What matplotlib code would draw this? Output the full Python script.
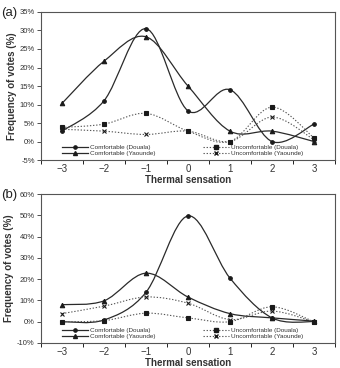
import numpy as np
import matplotlib
matplotlib.use('Agg')
import matplotlib.pyplot as plt
from matplotlib.path import Path
from matplotlib.patches import PathPatch
from matplotlib.lines import Line2D
from matplotlib.ticker import FuncFormatter

# Thermal sensation categories
sensation = [-3, -2, -1, 0, 1, 2, 3]

# Panel (a) values (%)
a_comf_douala = [2.8, 11.0, 30.5, 8.3, 14.0, 0.0, 4.7]
a_comf_yaounde = [10.3, 21.7, 28.3, 15.0, 2.8, 2.8, 0.0]
a_uncomf_douala = [3.8, 4.7, 7.6, 2.8, 0.0, 9.3, 1.0]
a_uncomf_yaounde = [3.3, 2.8, 1.9, 2.8, 0.0, 6.6, 0.5]

# Panel (b) values (%)
b_comf_douala = [0.0, 0.8, 13.8, 49.7, 20.5, 1.8, 0.0]
b_comf_yaounde = [8.0, 9.8, 22.8, 11.6, 3.8, 1.8, 0.3]
b_uncomf_douala = [0.0, 0.5, 4.0, 1.8, 0.0, 7.0, 0.0]
b_uncomf_yaounde = [3.8, 7.3, 11.6, 8.7, 1.0, 5.0, 0.0]

labels = ['Comfortable (Douala)', 'Comfortable (Yaounde)',
          'Uncomfortable (Douala)', 'Uncomfortable (Yaounde)']

plt.rcParams['font.family'] = ['Liberation Sans', 'DejaVu Sans']


def smooth_path(x, y):
    """Excel-like smoothed line as cubic Bezier path through the points."""
    pts = np.column_stack([x, y]).astype(float)
    verts = [pts[0]]
    codes = [Path.MOVETO]
    n = len(pts)
    for i in range(n - 1):
        p0 = pts[i - 1] if i > 0 else pts[i]
        p1 = pts[i]
        p2 = pts[i + 1]
        p3 = pts[i + 2] if i + 2 < n else pts[i + 1]
        c1 = p1 + (p2 - p0) / 6.0
        c2 = p2 - (p3 - p1) / 6.0
        verts += [c1, c2, p2]
        codes += [Path.CURVE4] * 3
    return Path(verts, codes)


styles = [
    dict(marker='o', ls='-', color='#2a2a2a', lw=0.9, ms=2.6),
    dict(marker='^', ls='-', color='#2a2a2a', lw=0.9, ms=3.2),
    dict(marker='s', ls=(0, (1.2, 1.6)), color='#555555', lw=0.8, ms=2.6),
    dict(marker='x', ls=(0, (1.2, 1.6)), color='#555555', lw=0.8, ms=3.0),
]


def draw_panel(fig, ax, series, ylim, ystep, tag):
    for vals, st in zip(series, styles):
        patch = PathPatch(smooth_path(sensation, vals), fill=False,
                          edgecolor=st['color'], lw=st['lw'], linestyle=st['ls'])
        ax.add_patch(patch)
        ax.plot(sensation, vals, linestyle='none', marker=st['marker'],
                color='#1a1a1a', ms=st['ms'], mew=0.8)
    ax.set_xlim(-3.5, 3.5)
    ax.set_ylim(*ylim)
    ax.set_yticks(np.arange(ylim[0], ylim[1] + 0.1, ystep))
    ax.yaxis.set_major_formatter(FuncFormatter(lambda v, p: f'{v:.0f}%'))
    ax.set_xticks(sensation)
    ax.set_xticks(np.arange(-3.5, 3.6, 1), minor=True)
    ax.tick_params(axis='x', which='major', length=0, labelsize=7, pad=3, colors='#333333')
    ax.tick_params(axis='x', which='minor', length=3, width=0.6, direction='out')
    ax.tick_params(axis='y', length=3, width=0.6, labelsize=5.5, pad=1.5, colors='#333333')
    for s in ax.spines.values():
        s.set_linewidth(0.8)
        s.set_color('#555555')
    ax.set_xlabel('Thermal sensation', fontsize=7, fontweight='bold', labelpad=0.5, color='#333333')
    ax.set_ylabel('Frequency of votes (%)', fontsize=7, fontweight='bold', labelpad=2, color='#333333')
    handles = [Line2D([], [], color=st['color'], lw=st['lw'], ls=st['ls'],
                      marker=st['marker'], ms=st['ms'] * 0.9, mfc='#1a1a1a', mec='#1a1a1a')
               for st in styles]
    ax.legend(handles, labels, loc='lower left', bbox_to_anchor=(0.055, -0.005), ncol=2,
              frameon=False, fontsize=4.6, handlelength=4.2, handletextpad=0.3,
              columnspacing=7.3, labelspacing=0.05, borderpad=0.2, labelcolor='#333333')
    pos = ax.get_position()
    fig.text(0.003, pos.y1 - 0.004, tag, fontsize=9.5, ha='left', va='center', color='#222222')


fig = plt.figure(figsize=(3.4, 3.68), dpi=100)
ax_a = fig.add_axes([0.1206, 0.5652, 0.8644, 0.4022])
ax_b = fig.add_axes([0.1206, 0.0680, 0.8644, 0.4048])

draw_panel(fig, ax_a, [a_comf_douala, a_comf_yaounde, a_uncomf_douala, a_uncomf_yaounde],
           (-5, 35), 5, '(a)')
draw_panel(fig, ax_b, [b_comf_douala, b_comf_yaounde, b_uncomf_douala, b_uncomf_yaounde],
           (-10, 60), 10, '(b)')

fig.savefig('out.png', dpi=100)
